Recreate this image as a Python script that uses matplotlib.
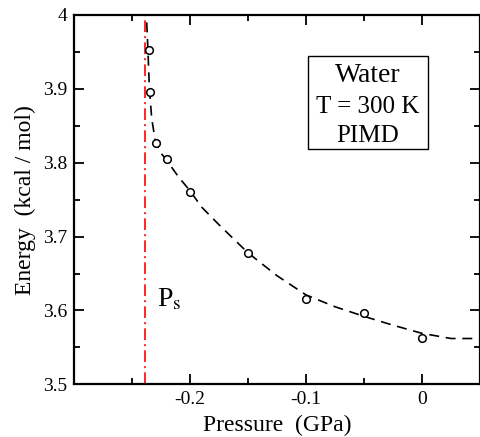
import numpy as np
import matplotlib
matplotlib.use('Agg')
import matplotlib.pyplot as plt
from matplotlib.patches import Rectangle
from matplotlib.ticker import MultipleLocator

# PIMD results for water at 300 K (pressure in GPa, energy in kcal/mol)
pressure = [-0.2354, -0.2349, -0.2291, -0.2194, -0.2000, -0.1500, -0.1000, -0.0500, 0.0000]
energy = [3.952, 3.896, 3.827, 3.805, 3.761, 3.678, 3.616, 3.597, 3.563]

# fitted curve
fit_p = [-0.2373, -0.2362, -0.2350, -0.2330, -0.2300, -0.2260, -0.2200, -0.2100, -0.2000,
         -0.1900, -0.1750, -0.1500, -0.1250, -0.1000, -0.0750, -0.0500, -0.0250, 0.0000,
         0.0250, 0.0500]
fit_e = [3.990, 3.950, 3.900, 3.860, 3.830, 3.815, 3.803, 3.781, 3.762,
         3.740, 3.716, 3.678, 3.647, 3.621, 3.605, 3.592, 3.580, 3.569,
         3.562, 3.562]

# spinodal pressure
p_spinodal = -0.2385

plt.rcParams['font.family'] = ['Liberation Serif', 'DejaVu Serif']
plt.rcParams['mathtext.fontset'] = 'stix'

fig = plt.figure(figsize=(4.81, 4.37), dpi=100)
ax = fig.add_axes([0.1538, 0.1206, 0.8442, 0.8451])

ax.axvline(p_spinodal, color='red', lw=1.2, dashes=(7, 2.5, 1.2, 2.5))
ax.plot(fit_p, fit_e, color='black', lw=1.2, dashes=(6, 4))
ax.plot(pressure, energy, 'o', mfc='white', mec='black', mew=1.1, ms=5.5)

ax.set_xlim(-0.3, 0.05)
ax.set_ylim(3.5, 4.0)
ax.xaxis.set_major_locator(MultipleLocator(0.1))
ax.xaxis.set_minor_locator(MultipleLocator(0.05))
ax.yaxis.set_major_locator(MultipleLocator(0.1))
ax.yaxis.set_minor_locator(MultipleLocator(0.05))
ax.set_xticks([-0.2, -0.1, 0])
ax.set_xticklabels(['-0.2', '-0.1', '0'])
ax.set_yticks([3.5, 3.6, 3.7, 3.8, 3.9, 4.0])
ax.set_yticklabels(['3.5', '3.6', '3.7', '3.8', '3.9', '4'])

ax.tick_params(which='both', direction='in', top=True, right=True, width=1.3)
ax.tick_params(which='major', length=7.5, labelsize=14)
ax.tick_params(axis='x', which='major', pad=5)
ax.tick_params(axis='y', which='major', pad=5)
ax.tick_params(which='minor', length=4)
for s in ax.spines.values():
    s.set_linewidth(1.6)

ax.set_xlabel('Pressure  (GPa)', fontsize=17, labelpad=5)
ax.set_ylabel('Energy  (kcal / mol)', fontsize=17, labelpad=5)

ax.text(-0.2285, 3.606, r'P$_{\mathrm{s}}$', fontsize=20, ha='left', va='baseline')

ax.add_patch(Rectangle((0.576, 0.637), 0.295, 0.2528, transform=ax.transAxes,
                       fill=False, ec='black', lw=1.0))
ax.text(0.7235, 0.8194, 'Water', transform=ax.transAxes, fontsize=20, ha='center', va='baseline')
ax.text(0.7235, 0.7338, 'T = 300 K', transform=ax.transAxes, fontsize=18, ha='center', va='baseline')
ax.text(0.7235, 0.657, 'PIMD', transform=ax.transAxes, fontsize=18, ha='center', va='baseline')

fig.savefig('out.png', dpi=100)
